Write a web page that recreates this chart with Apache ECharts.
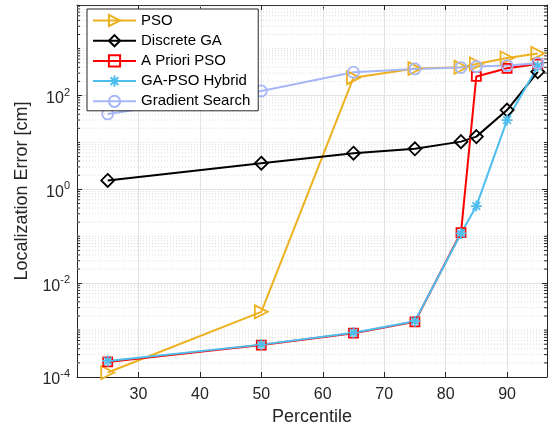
<!DOCTYPE html>
<html>
<head>
<meta charset="utf-8">
<script src="https://cdn.jsdelivr.net/npm/echarts@6/dist/echarts.min.js"></script>
<style>
  html, body { margin: 0; padding: 0; background: #fff; }
  #fig_localization_error { width: 553px; height: 434px; }
</style>
</head>
<body>
<div id="fig_localization_error"></div>
<script>
// percentiles on the x axis
var percentiles = [25, 50, 65, 75, 82.5, 85, 90, 95];

// localization error [cm] per method
var pso        = [1.25e-4, 2.45e-3, 240, 375, 400, 470, 630, 790];
var discreteGA = [1.55, 3.6, 5.9, 7.3, 10.4, 13.3, 49, 320];
var aprioriPSO = [2.1e-4, 4.8e-4, 8.6e-4, 1.5e-3, 0.12, 255, 380, 470];
var hybrid     = [2.2e-4, 4.9e-4, 8.8e-4, 1.55e-3, 0.115, 0.44, 30, 420];
var gradient   = [40.5, 125, 314, 369, 394, 413, 434, 489];

var seriesNames = ['PSO', 'Discrete GA', 'A Priori PSO', 'GA-PSO Hybrid', 'Gradient Search'];

var xMin = 20, xMax = 96.5;
var yMin = 1e-4, yMax = 8500;

var FONT = '"Liberation Sans", Arial, Helvetica, sans-serif';
var AXIS_COLOR = '#262626';

function pairs(ys) {
    var out = [];
    for (var i = 0; i < percentiles.length; i++) {
        out.push([percentiles[i], ys[i]]);
    }
    return out;
}

// minor log grid positions (2..9 x 10^k plus odd decades)
var minorValues = [];
for (var e = -4; e <= 3; e++) {
    for (var k = 1; k <= 9; k++) {
        if (k === 1 && e % 2 === 0) continue;
        var v = k * Math.pow(10, e);
        if (v < yMax) minorValues.push([xMin, v]);
    }
}

function makeLine(name, data, color, symbol, size) {
    return {
        name: name,
        type: 'line',
        data: pairs(data),
        symbol: symbol,
        symbolSize: size,
        z: 3,
        lineStyle: { color: color, width: 2 },
        itemStyle: { color: 'transparent', borderColor: color, borderWidth: 1.8 },
        emphasis: { disabled: true },
        animation: false
    };
}

var triRight = 'path://M0,0 L10,5 L0,10 Z';
var asterisk = 'path://M5,0 L5,10 M0,5 L10,5 M1.5,1.5 L8.5,8.5 M8.5,1.5 L1.5,8.5';

var axisCommon = {
    axisLine: { show: true, lineStyle: { color: AXIS_COLOR, width: 1 } },
    axisTick: { show: true, inside: true, length: 5, lineStyle: { color: AXIS_COLOR } }
};

var option = {
    backgroundColor: '#fff',
    animation: false,
    grid: { left: 77, right: 6, top: 5, bottom: 57 },
    legend: {
        data: seriesNames,
        orient: 'vertical',
        left: 87,
        top: 9,
        itemWidth: 43,
        itemHeight: 14,
        itemGap: 5.2,
        padding: [4, 8, 2, 5],
        borderColor: AXIS_COLOR,
        borderWidth: 1,
        backgroundColor: '#fff',
        textStyle: { fontSize: 15, color: '#000', fontFamily: FONT }
    },
    xAxis: [{
        type: 'value',
        min: xMin,
        max: xMax,
        interval: 10,
        name: 'Percentile',
        nameLocation: 'middle',
        nameGap: 30,
        nameTextStyle: { fontSize: 18, color: AXIS_COLOR, fontFamily: FONT },
        axisLine: axisCommon.axisLine,
        axisTick: axisCommon.axisTick,
        axisLabel: {
            margin: 10, fontSize: 16, color: AXIS_COLOR, fontFamily: FONT,
            showMinLabel: false, showMaxLabel: false
        },
        splitLine: { show: true, lineStyle: { color: '#e3e3e3', width: 1 } }
    }, {
        type: 'value',
        position: 'top',
        min: xMin,
        max: xMax,
        interval: 10,
        axisLine: axisCommon.axisLine,
        axisTick: axisCommon.axisTick,
        axisLabel: { show: false },
        splitLine: { show: false }
    }],
    yAxis: [{
        type: 'log',
        logBase: 10,
        min: yMin,
        max: yMax,
        interval: 2,
        name: 'Localization Error [cm]',
        nameLocation: 'middle',
        nameGap: 40,
        nameTextStyle: { fontSize: 18, color: AXIS_COLOR, fontFamily: FONT },
        axisLine: axisCommon.axisLine,
        axisTick: axisCommon.axisTick,
        axisLabel: {
            margin: 7,
            showMaxLabel: false,
            formatter: function(val) {
                var ex = Math.round(Math.log(val) / Math.LN10);
                return '{b|10}{s|' + ex + '}';
            },
            rich: {
                b: { fontSize: 16, color: AXIS_COLOR, fontFamily: FONT, padding: [6, 0, 0, 0] },
                s: { fontSize: 11, color: AXIS_COLOR, fontFamily: FONT, padding: [0, 0, 6, 0] }
            }
        },
        splitLine: { show: true, lineStyle: { color: '#e3e3e3', width: 1 } }
    }, {
        type: 'log',
        logBase: 10,
        position: 'right',
        min: yMin,
        max: yMax,
        interval: 2,
        axisLine: axisCommon.axisLine,
        axisTick: axisCommon.axisTick,
        axisLabel: { show: false },
        splitLine: { show: false }
    }],
    series: [
        {
            name: 'minorGrid',
            type: 'custom',
            data: minorValues,
            z: 1,
            silent: true,
            renderItem: function(params, api) {
                var v = api.value(1);
                var pL = api.coord([xMin, v]);
                var pR = api.coord([xMax, v]);
                return {
                    type: 'group',
                    children: [{
                        type: 'line',
                        shape: { x1: pL[0], y1: pL[1], x2: pR[0], y2: pR[1] },
                        style: { stroke: '#dcdcdc', lineWidth: 1, lineDash: [1, 2] }
                    }, {
                        type: 'line',
                        shape: { x1: pL[0], y1: pL[1], x2: pL[0] + 3, y2: pL[1] },
                        style: { stroke: AXIS_COLOR, lineWidth: 1 }
                    }, {
                        type: 'line',
                        shape: { x1: pR[0] - 3, y1: pR[1], x2: pR[0], y2: pR[1] },
                        style: { stroke: AXIS_COLOR, lineWidth: 1 }
                    }]
                };
            }
        },
        makeLine('PSO', pso, '#EDB120', triRight, 13),
        makeLine('Discrete GA', discreteGA, '#000000', 'diamond', 13),
        makeLine('A Priori PSO', aprioriPSO, '#FF0000', 'rect', 9),
        makeLine('GA-PSO Hybrid', hybrid, '#4DBEEE', asterisk, 11),
        makeLine('Gradient Search', gradient, '#A6B6F7', 'circle', 11)
    ]
};

var chart = echarts.init(document.getElementById('fig_localization_error'));
chart.setOption(option);
</script>
</body>
</html>
